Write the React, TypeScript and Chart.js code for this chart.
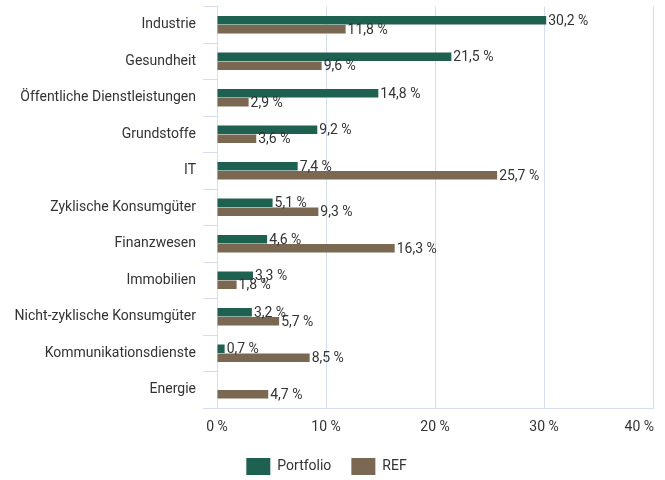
import React, { useEffect, useRef } from "react";
import { Chart, registerables } from "chart.js";

Chart.register(...registerables);

const categories = [
  "Industrie",
  "Gesundheit",
  "Öffentliche Dienstleistungen",
  "Grundstoffe",
  "IT",
  "Zyklische Konsumgüter",
  "Finanzwesen",
  "Immobilien",
  "Nicht-zyklische Konsumgüter",
  "Kommunikationsdienste",
  "Energie",
];
const portfolioValues: (number | null)[] = [30.2, 21.5, 14.8, 9.2, 7.4, 5.1, 4.6, 3.3, 3.2, 0.7, null];
const refValues: (number | null)[] = [11.8, 9.6, 2.9, 3.6, 25.7, 9.3, 16.3, 1.8, 5.7, 8.5, 4.7];
const xTicks = [0, 10, 20, 30, 40];

const GREEN = "#1e6150";
const BROWN = "#7a6852";
const GRID = "#d5dcef";
const TEXT = "#333333";
const FONT = "Roboto, 'Noto Sans', sans-serif";
const FS = 14;

const fmt = (v: number) => v.toFixed(1).replace(".", ",") + " %";

const valueLabels = {
  id: "valueLabels",
  beforeDraw(chart: any) {
    // keep the last x tick label inside the plot (right-aligned to the axis end)
    const xs = chart.scales.x;
    const items = xs.getLabelItems();
    const last = items[items.length - 1];
    if (last) {
      last.options.textAlign = "right";
      last.options.translation[0] = xs.right + 1;
    }
  },
  afterDatasetsDraw(chart: any) {
    const ctx = chart.ctx;
    ctx.save();
    ctx.font = `${FS}px ${FONT}`;
    ctx.fillStyle = TEXT;
    ctx.textAlign = "left";
    ctx.textBaseline = "middle";
    chart.data.datasets.forEach((ds: any, di: number) => {
      const meta = chart.getDatasetMeta(di);
      meta.data.forEach((el: any, i: number) => {
        const v = ds.data[i];
        if (v === null || v === undefined) return;
        ctx.fillText(fmt(v), el.x + 2, el.y + 1);
      });
    });
    ctx.restore();
  },
};

export default function App() {
  const ref = useRef<HTMLCanvasElement | null>(null);
  useEffect(() => {
    if (!ref.current) return;
    const chart = new Chart(ref.current, {
      type: "bar",
      data: {
        labels: categories,
        datasets: [
          {
            label: "Portfolio",
            data: portfolioValues,
            backgroundColor: GREEN,
            categoryPercentage: 0.5,
            barPercentage: 0.92,
          },
          {
            label: "REF",
            data: refValues,
            backgroundColor: BROWN,
            categoryPercentage: 0.5,
            barPercentage: 0.92,
          },
        ],
      },
      options: {
        indexAxis: "y",
        animation: false,
        responsive: true,
        maintainAspectRatio: false,
        layout: { padding: { top: 0, right: 12, left: 0, bottom: 0 } },
        scales: {
          x: {
            min: 0,
            max: 40,
            afterBuildTicks: (scale: any) => {
              scale.ticks = xTicks.map((v) => ({ value: v }));
            },
            afterFit: (scale: any) => {
              scale.height = 30;
              scale.paddingRight = 0;
              scale.paddingLeft = 0;
            },
            ticks: {
              color: TEXT,
              font: { family: FONT, size: FS },
              padding: 11,
              callback: (v: any) => `${v} %`,
            },
            grid: {
              color: GRID,
              lineWidth: 1,
              drawTicks: false,
            },
            border: { color: GRID, width: 1 },
          },
          y: {
            afterFit: (scale: any) => {
              scale.width = 217;
              scale.paddingTop = 6.5;
              scale.paddingBottom = 0;
            },
            ticks: {
              color: TEXT,
              font: { family: FONT, size: FS },
              padding: 7,
            },
            grid: {
              color: GRID,
              drawOnChartArea: false,
              drawTicks: true,
              tickLength: 14,
              offset: true,
            },
            border: { color: GRID, width: 1 },
          },
        },
        plugins: {
          legend: {
            position: "bottom",
            labels: {
              boxWidth: 24,
              boxHeight: 17,
              padding: 20,
              color: TEXT,
              font: { family: FONT, size: FS },
            },
          },
          tooltip: { enabled: false },
        },
      },
      plugins: [valueLabels],
    });
    return () => chart.destroy();
  }, []);
  return (
    <div style={{ position: "fixed", left: 0, top: 0, width: 665, height: 480, overflow: "hidden", background: "#fff" }}>
      <div style={{ width: 665, height: 485, position: "relative" }}>
        <canvas ref={ref} />
      </div>
    </div>
  );
}
